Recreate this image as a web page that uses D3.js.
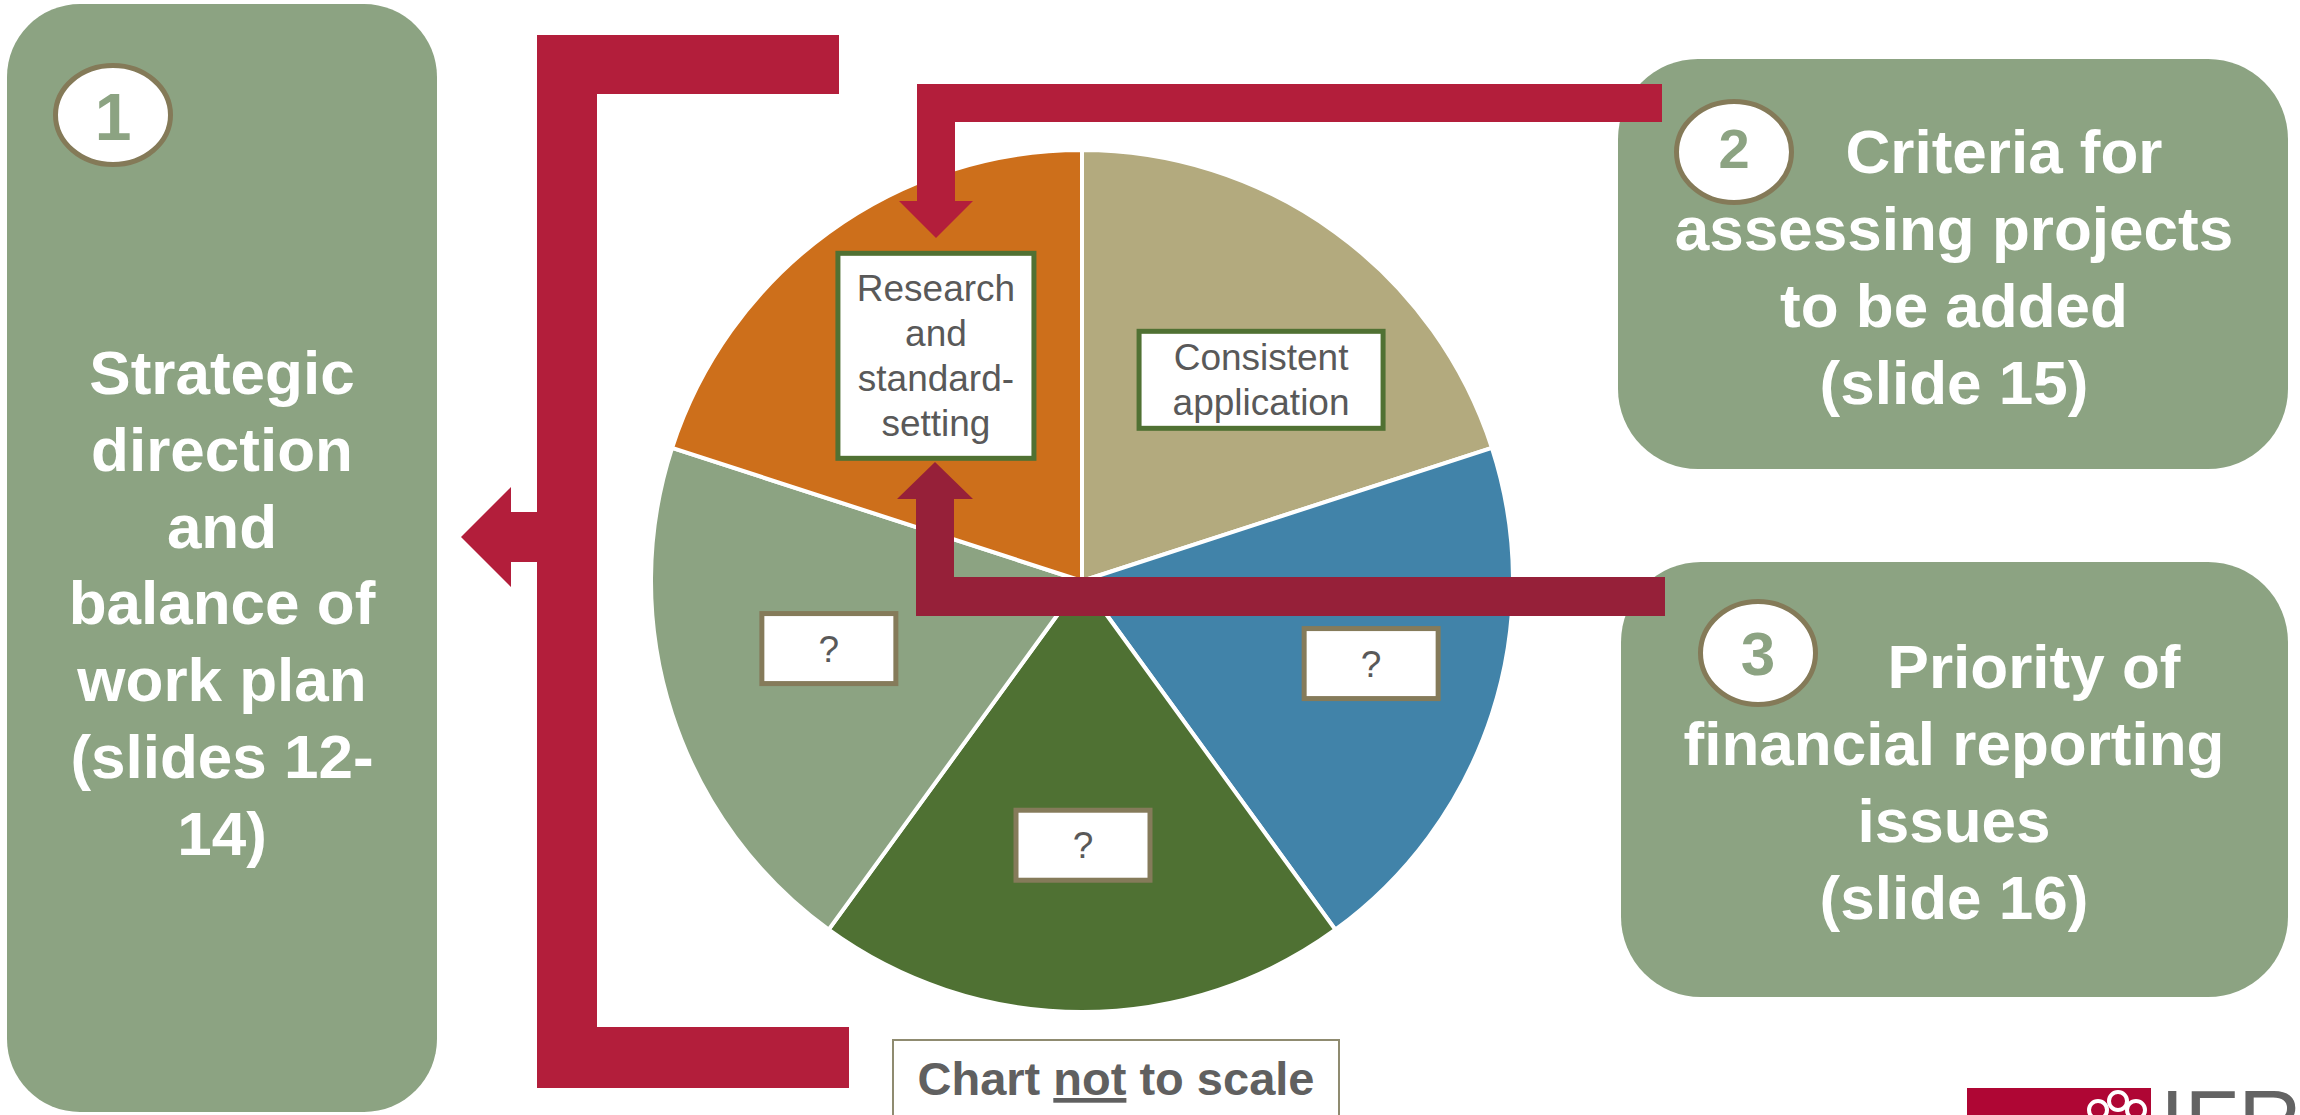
<!DOCTYPE html>
<html><head><meta charset="utf-8">
<script src="https://cdn.jsdelivr.net/npm/d3@7"></script>
<style>html,body{margin:0;padding:0;background:#fff;overflow:hidden}</style>
</head><body>
<svg id="c" width="2300" height="1115" xmlns="http://www.w3.org/2000/svg"></svg>
<script>
// ---------- data ----------
const categories = ["Consistent application", "?", "?", "?", "Research and standard-setting"];
const categoryLines = [["Consistent", "application"], ["?"], ["?"], ["?"], ["Research", "and", "standard-", "setting"]];
const values = [1, 1, 1, 1, 1];          // equal shares - chart not to scale
const sliceColors = ["#B3AA7E", "#4183A9", "#4F7133", "#8CA382", "#CD6F1B"];
const stepNumbers = ["1", "2", "3"];
const stepTexts = [
  ["Strategic", "direction", "and", "balance of", "work plan", "(slides 12-", "14)"],
  ["Criteria for", "assessing projects", "to be added", "(slide 15)"],
  ["Priority of", "financial reporting", "issues", "(slide 16)"]
];
const noteParts = ["Chart ", "not", " to scale"];

// ---------- layout ----------
const FONT = "'Liberation Sans', Arial, Helvetica, sans-serif";
const SAGE = "#8CA382", RED = "#B31E3B", MAROON = "#962039", RING = "#847A58";
const svg = d3.select("#c");

// step panels
const panels = [
  {x: 7, y: 4, w: 430, h: 1108, r: 73, cx: 113, cy: 115, rx: 60, ry: 52, ns: 66, nb: 140,
   tx: [222], ty: 394, lh: 76.8},
  {x: 1618, y: 59, w: 670, h: 410, r: 80, cx: 1734, cy: 152, rx: 60, ry: 53, ns: 56, nb: 168,
   tx: [2004, 1954], ty: 173, lh: 77},
  {x: 1621, y: 562, w: 667, h: 435, r: 80, cx: 1758, cy: 653, rx: 60, ry: 54, ns: 62, nb: 675,
   tx: [2034, 1954], ty: 688, lh: 77}
];
const pg = svg.append("g");
panels.forEach((p, i) => {
  pg.append("rect").attr("x", p.x).attr("y", p.y).attr("width", p.w).attr("height", p.h)
    .attr("rx", p.r).attr("fill", SAGE);
  pg.append("ellipse").attr("cx", p.cx).attr("cy", p.cy).attr("rx", p.rx - 2.5).attr("ry", p.ry - 2.5)
    .attr("fill", "#fff").attr("stroke", RING).attr("stroke-width", 5);
  pg.append("text").attr("x", p.cx).attr("y", p.nb).attr("text-anchor", "middle")
    .attr("font-family", FONT).attr("font-weight", "bold").attr("font-size", p.ns)
    .attr("fill", SAGE).text(stepNumbers[i]);
  const t = pg.append("text").attr("font-family", FONT).attr("font-weight", "bold")
    .attr("font-size", 62).attr("fill", "#fff").attr("text-anchor", "middle");
  stepTexts[i].forEach((line, j) => {
    t.append("tspan").attr("x", p.tx[Math.min(j, p.tx.length - 1)]).attr("y", p.ty + j * p.lh).text(line);
  });
});

// ---------- pie ----------
const cx = 1082, cy = 581, R = 431;
const pie = d3.pie().value(d => d).sort(null);
const arc = d3.arc().innerRadius(0).outerRadius(R);
const labelArc = d3.arc().innerRadius(R * 0.62).outerRadius(R * 0.62);
const arcs = pie(values);
const gp = svg.append("g").attr("transform", `translate(${cx},${cy})`);
gp.selectAll("path.slice").data(arcs).join("path").attr("class", "slice")
  .attr("d", arc).attr("fill", (d, i) => sliceColors[i])
  .attr("stroke", "#fff").attr("stroke-width", 4).attr("stroke-linejoin", "round");

// label boxes
const boxSize = [[249, 102], [139, 75], [139, 75], [139, 75], [201, 210]];
const boxShift = [[22, 15], [35, 0], [1, -3], [1, -15], [11, -9]];
const boxStroke = ["#507133", "#857B5A", "#857B5A", "#857B5A", "#507133"];
const LH = 45, FS = 37;
arcs.forEach((d, i) => {
  const c = labelArc.centroid(d);
  const bx = c[0] + boxShift[i][0], by = c[1] + boxShift[i][1];
  const [w, h] = boxSize[i];
  gp.append("rect").attr("x", bx - w / 2 + 2.5).attr("y", by - h / 2 + 2.5)
    .attr("width", w - 5).attr("height", h - 5).attr("fill", "#fff")
    .attr("stroke", boxStroke[i]).attr("stroke-width", 5);
  const lines = categoryLines[i];
  const t = gp.append("text").attr("font-family", FONT).attr("font-size", FS)
    .attr("fill", "#595959").attr("text-anchor", "middle");
  const y0 = by - (lines.length - 1) * LH / 2 + FS * 0.35;
  lines.forEach((l, j) => t.append("tspan").attr("x", bx).attr("y", y0 + j * LH).text(l));
});

// ---------- arrows ----------
const line = d3.line();
// left bracket with arrow pointing to panel 1
const bracket = [[537, 35], [839, 35], [839, 94], [597, 94], [597, 1027], [849, 1027], [849, 1088],
  [537, 1088], [537, 562], [511, 562], [511, 587], [461, 537], [511, 487], [511, 512], [537, 512]];
svg.append("path").attr("d", line(bracket) + "Z").attr("fill", RED);
// arrow from panel 2 down to research
const a2 = [[1662, 84], [917, 84], [917, 201], [899, 201], [936, 238], [973, 201], [955, 201],
  [955, 122], [1662, 122]];
svg.append("path").attr("d", line(a2) + "Z").attr("fill", RED);
// arrow from panel 3 up to research
const a3 = [[1665, 577], [1665, 616], [916, 616], [916, 499], [897, 499], [935, 462], [973, 499],
  [954, 499], [954, 577]];
svg.append("path").attr("d", line(a3) + "Z").attr("fill", MAROON);

// ---------- note ----------
svg.append("rect").attr("x", 893).attr("y", 1040).attr("width", 446).attr("height", 100)
  .attr("fill", "#fff").attr("stroke", "#8F8B70").attr("stroke-width", 2);
const nt = svg.append("text").attr("x", 1116).attr("y", 1095).attr("text-anchor", "middle")
  .attr("font-family", FONT).attr("font-weight", "bold").attr("font-size", 47).attr("fill", "#606060");
noteParts.forEach((p, i) => {
  const ts = nt.append("tspan").text(p);
  if (i === 1) ts.attr("text-decoration", "underline");
});

// ---------- logo ----------
svg.append("rect").attr("x", 1967).attr("y", 1088).attr("width", 184).attr("height", 30).attr("fill", "#AF0634");
[[2098, 1110], [2118, 1101], [2136, 1110]].forEach(c => {
  svg.append("circle").attr("cx", c[0]).attr("cy", c[1]).attr("r", 9)
    .attr("fill", "none").attr("stroke", "#fff").attr("stroke-width", 4);
});
svg.append("text").attr("x", 2160).attr("y", 1151).attr("font-family", FONT)
  .attr("font-size", 88).attr("fill", "#636363").text("IFRS");
</script>
</body></html>
